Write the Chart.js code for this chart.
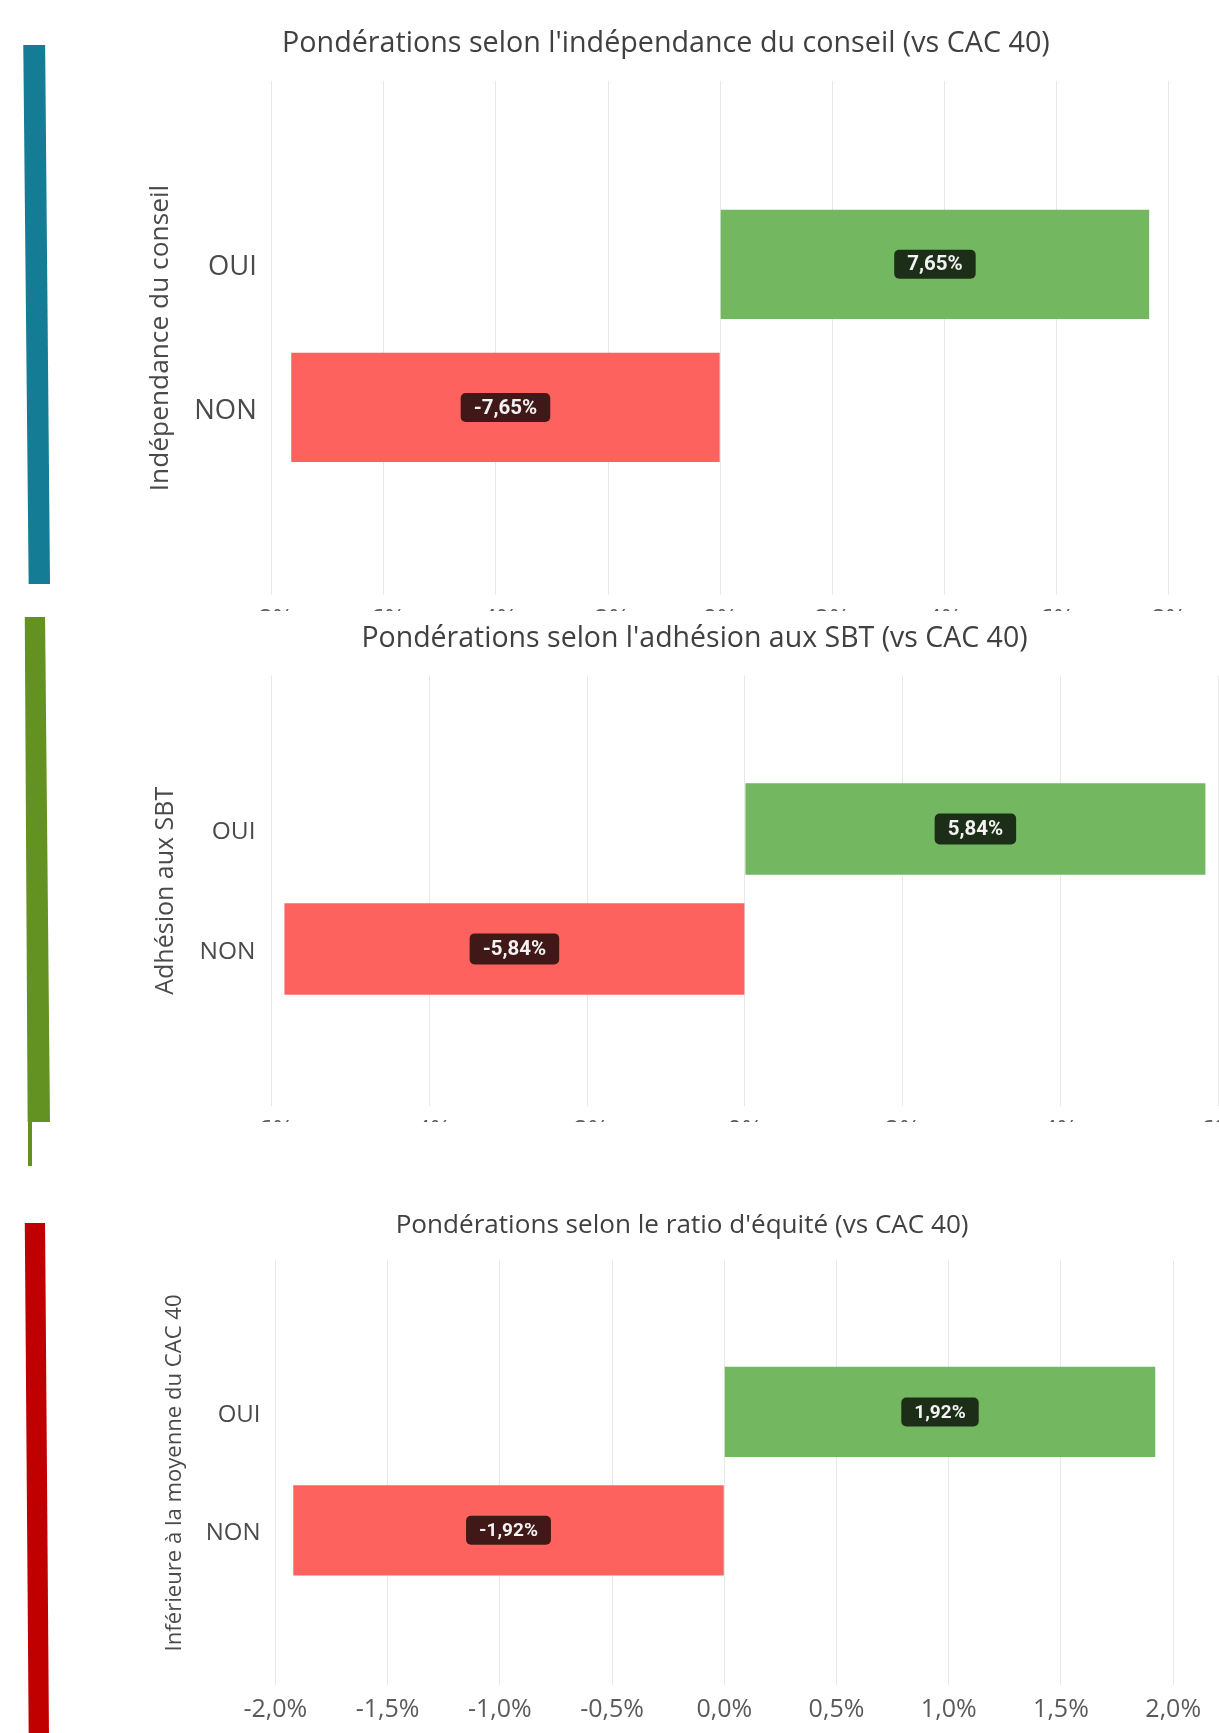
<!DOCTYPE html>
<html lang="fr">
<head>
<meta charset="utf-8">
<title>Pondérations vs CAC 40</title>
<script src="https://cdn.jsdelivr.net/npm/chart.js@4.4.1/dist/chart.umd.min.js"></script>
<style>
  html, body { margin: 0; padding: 0; background: #ffffff; }
  body { position: relative; width: 1219px; height: 1733px; overflow: hidden; }
  .panel { position: absolute; left: 0; width: 1219px; overflow: hidden; }
  .panel canvas { position: absolute; top: 0; }
  .accent { position: absolute; }
  #accent1 { left: 23px; top: 45px; width: 27px; height: 539px; background: #157C96;
             clip-path: polygon(1% 0, 82% 0, 100% 100%, 21% 100%); }
  #accent2 { left: 24px; top: 617px; width: 26px; height: 505px; background: #639222;
             clip-path: polygon(3% 0, 81% 0, 100% 100%, 14% 100%); }
  #accent2b { left: 28px; top: 1120px; width: 4px; height: 46px; background: #639222; }
  #accent3 { left: 24px; top: 1223px; width: 26px; height: 510px; background: #C00000;
             clip-path: polygon(3% 0, 81% 0, 96% 100%, 18% 100%); }
</style>
</head>
<body>
<div class="accent" id="accent1"></div>
<div class="accent" id="accent2"></div>
<div class="accent" id="accent2b"></div>
<div class="accent" id="accent3"></div>

<div class="panel" style="top:0; height:611px;">
  <canvas id="chartConseil" width="1096" height="645" style="left:122.7px"></canvas>
</div>
<div class="panel" style="top:611px; height:511px;">
  <canvas id="chartSbt" width="1137" height="545" style="left:130.5px"></canvas>
</div>
<div class="panel" style="top:1122px; height:611px;">
  <canvas id="chartEquite" width="1068" height="611" style="left:150.9px"></canvas>
</div>

<script>
// ---- data ----
const categories = ['OUI', 'NON'];

const independanceValues = [7.65, -7.65];
const sbtValues = [5.84, -5.84];
const equiteValues = [1.92, -1.92];

const independanceTicks = [-8, -6, -4, -2, 0, 2, 4, 6, 8];
const sbtTicks = [-6, -4, -2, 0, 2, 4, 6];
const equiteTicks = [-2, -1.5, -1, -0.5, 0, 0.5, 1, 1.5, 2];

const barColors = ['#73B761', '#FD625E'];

// ---- helpers ----
function formatPercent(v, decimals) {
  const sign = v < 0 ? '-' : '';
  return sign + Math.abs(v).toFixed(decimals).replace('.', ',') + '%';
}

// Dark rounded badge with the value, centred on each bar
const valueBadges = {
  id: 'valueBadges',
  afterDatasetsDraw(chart, args, opts) {
    const ctx = chart.ctx;
    const meta = chart.getDatasetMeta(0);
    const points = chart.data.datasets[0].data;
    ctx.save();
    ctx.font = 'bold ' + opts.size + 'px Roboto, sans-serif';
    ctx.textAlign = 'center';
    ctx.textBaseline = 'middle';
    meta.data.forEach((bar, i) => {
      const {x, y, base} = bar.getProps(['x', 'y', 'base'], true);
      const text = formatPercent(points[i].x, 2);
      const w = ctx.measureText(text).width + 2 * opts.padX;
      const h = opts.height;
      const cx = (x + base) / 2;
      ctx.fillStyle = 'rgba(0, 0, 0, 0.75)';
      ctx.beginPath();
      ctx.roundRect(cx - w / 2, y - h / 2, w, h, 5);
      ctx.fill();
      ctx.fillStyle = '#F2F2F2';
      ctx.fillText(text, cx, y + 1);
    });
    ctx.restore();
  }
};

Chart.defaults.font.family = "'Open Sans', sans-serif";
Chart.defaults.color = '#505050';

// Category slots sit at 0 (OUI) and 1 (NON) on the vertical axis
const categoryRange = {min: -1.28, max: 2.31};

const panels = [
  {
    canvas: 'chartConseil',
    title: "Pondérations selon l'indépendance du conseil (vs CAC 40)",
    axisTitle: 'Indépendance du conseil',
    values: independanceValues, ticks: independanceTicks, decimals: 0,
    padLeft: 40, padRight: 50.2,
    titleSize: 28.7, titlePad: {top: 26.7, bottom: 19.9},
    yWidth: 108.6, labelSize: 27.4, labelPad: 14.8,
    axisTitleSize: 26.3, axisTitleShift: -18.5,
    xHeight: 50, tickSize: 25, tickPad: 10,
    badge: {size: 20.5, height: 29, padX: 13}
  },
  {
    canvas: 'chartSbt',
    title: "Pondérations selon l'adhésion aux SBT (vs CAC 40)",
    axisTitle: 'Adhésion aux SBT',
    values: sbtValues, ticks: sbtTicks, decimals: 0,
    padLeft: 40, padRight: 50,
    titleSize: 28.5, titlePad: {top: 10.8, bottom: 19.5},
    yWidth: 100.8, labelSize: 24.5, labelPad: 16.3,
    axisTitleSize: 25, axisTitleShift: -20.5,
    xHeight: 50, tickSize: 25, tickPad: 10,
    badge: {size: 20.5, height: 31, padX: 13}
  },
  {
    canvas: 'chartEquite',
    title: "Pondérations selon le ratio d'équité (vs CAC 40)",
    axisTitle: 'Inférieure à la moyenne du CAC 40',
    values: equiteValues, ticks: equiteTicks, decimals: 1,
    padLeft: 40, padRight: 45.8,
    titleSize: 26.1, titlePad: {top: 88, bottom: 19.1},
    yWidth: 84.3, labelSize: 24, labelPad: 14.8,
    axisTitleSize: 22.1, axisTitleShift: -29.3,
    xHeight: 47.6, tickSize: 25, tickPad: 9.2,
    badge: {size: 19, height: 29, padX: 13}
  }
];

panels.forEach(p => {
  new Chart(document.getElementById(p.canvas), {
    type: 'bar',
    data: {
      datasets: [{
        data: categories.map((c, i) => ({x: p.values[i], y: i})),
        backgroundColor: barColors,
        borderWidth: 0,
        categoryPercentage: 1,
        barPercentage: 0.763
      }]
    },
    options: {
      indexAxis: 'y',
      responsive: false,
      devicePixelRatio: 1,
      animation: false,
      events: [],
      layout: {padding: {left: p.padLeft, right: p.padRight, top: 0, bottom: 0}},
      plugins: {
        legend: {display: false},
        tooltip: {enabled: false},
        title: {
          display: true,
          text: p.title,
          color: '#404040',
          font: {size: p.titleSize, weight: 'normal'},
          padding: p.titlePad
        },
        valueBadges: p.badge
      },
      scales: {
        x: {
          type: 'linear',
          min: p.ticks[0],
          max: p.ticks[p.ticks.length - 1],
          afterBuildTicks: s => { s.ticks = p.ticks.map(v => ({value: v})); },
          afterFit: s => { s.height = p.xHeight; },
          grid: {color: '#E8E8E8', lineWidth: 1, drawTicks: false},
          border: {display: false},
          ticks: {
            color: '#5A5A5A',
            font: {size: p.tickSize},
            padding: p.tickPad,
            maxRotation: 0,
            autoSkip: false,
            callback: v => formatPercent(v, p.decimals)
          }
        },
        y: {
          type: 'linear',
          reverse: true,
          offset: false,
          min: categoryRange.min,
          max: categoryRange.max,
          afterBuildTicks: s => { s.ticks = categories.map((c, i) => ({value: i})); },
          afterFit: s => { s.width = p.yWidth; },
          grid: {display: false, drawTicks: false},
          border: {display: false},
          ticks: {
            color: '#4A4A4A',
            font: {size: p.labelSize},
            padding: p.labelPad,
            labelOffset: 3.3,
            autoSkip: false,
            callback: v => categories[v]
          },
          title: {
            display: true,
            text: p.axisTitle,
            color: '#4A4A4A',
            font: {size: p.axisTitleSize},
            padding: {top: p.axisTitleShift, bottom: 0}
          }
        }
      }
    },
    plugins: [valueBadges]
  });
});
</script>
</body>
</html>
